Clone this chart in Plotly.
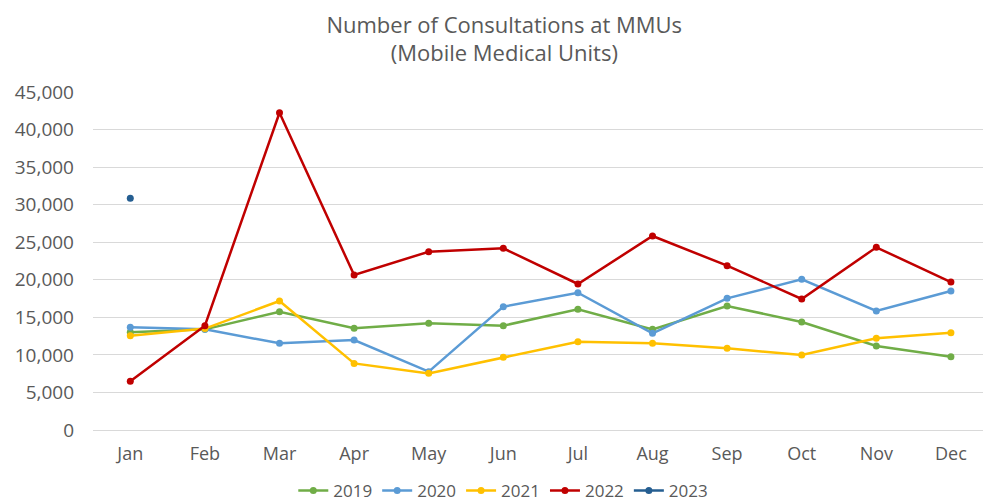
import plotly.graph_objects as go

months = ["Jan", "Feb", "Mar", "Apr", "May", "Jun", "Jul", "Aug", "Sep", "Oct", "Nov", "Dec"]
years = ["2019", "2020", "2021", "2022", "2023"]
v2019 = [13000, 13400, 15750, 13540, 14200, 13890, 16060, 13400, 16510, 14380, 11180, 9760]
v2020 = [13670, 13400, 11540, 11980, 7770, 16420, 18280, 12870, 17530, 20060, 15840, 18500]
v2021 = [12560, 13500, 17170, 8870, 7540, 9670, 11760, 11540, 10870, 9980, 12200, 12950]
v2022 = [6500, 13890, 42240, 20630, 23740, 24190, 19440, 25830, 21880, 17440, 24320, 19700]
v2023 = [30840, None, None, None, None, None, None, None, None, None, None, None]
colors = ["#70AD47", "#5B9BD5", "#FFC000", "#C00000", "#255E91"]
y_ticks = [0, 5000, 10000, 15000, 20000, 25000, 30000, 35000, 40000, 45000]

fig = go.Figure()
for name, vals, col in zip(years, [v2019, v2020, v2021, v2022, v2023], colors):
    fig.add_trace(go.Scatter(
        x=months, y=vals, name=name, mode="lines+markers",
        line=dict(color=col, width=2.5),
        marker=dict(color=col, size=7),
    ))

font_fam = "Open Sans, Liberation Sans, sans-serif"
fig.update_layout(
    width=983, height=504,
    margin=dict(l=93, r=0, t=92, b=74, autoexpand=False),
    paper_bgcolor="white", plot_bgcolor="white",
    font=dict(family=font_fam, color="#595959"),
    title=dict(text="Number of Consultations at MMUs<br>(Mobile Medical Units)",
               x=0.513, xanchor="center", xref="container",
               y=0.935, yanchor="middle", yref="container",
               font=dict(size=22, color="#595959")),
    showlegend=True,
    legend=dict(orientation="h", x=0.461, xanchor="center", y=-0.18, yanchor="middle",
                font=dict(size=17, color="#595959"), itemwidth=30,
                traceorder="normal"),
    xaxis=dict(range=[-0.5, 11.43], showgrid=False, showline=False, zeroline=False,
               automargin=False,
               ticks="", tickfont=dict(size=18, color="#595959"), ticklabelstandoff=11),
    yaxis=dict(range=[0, 45000], tickvals=y_ticks, tickformat=",d",
               automargin=False,
               showgrid=True, gridcolor="#D9D9D9", gridwidth=1,
               zeroline=True, zerolinecolor="#D9D9D9", zerolinewidth=1,
               showline=False, ticks="", tickfont=dict(size=19, color="#595959"),
               ticklabelstandoff=18),
)
fig.write_html("out.html")
